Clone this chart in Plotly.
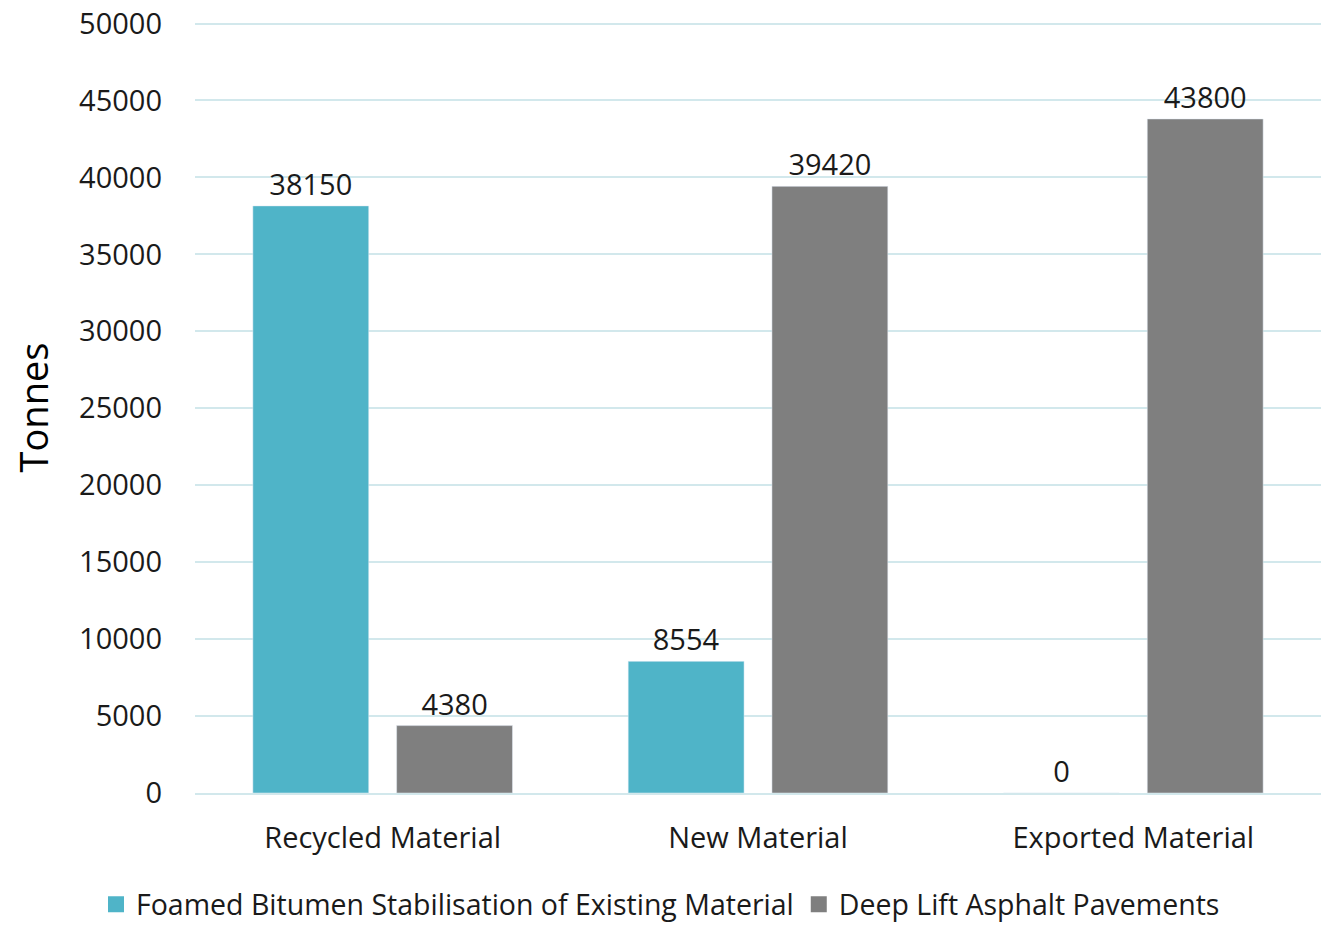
import plotly.graph_objects as go

categories = ["Recycled Material", "New Material", "Exported Material"]
foamed = [38150, 8554, 0]
deep_lift = [4380, 39420, 43800]
series_names = ["Foamed Bitumen Stabilisation of Existing Material", "Deep Lift Asphalt Pavements"]
colors = ["#4fb4c8", "#7f7f7f"]
y_ticks = [0, 5000, 10000, 15000, 20000, 25000, 30000, 35000, 40000, 45000, 50000]

FONT = "Open Sans"
TXT = "#1a1a1a"
fig = go.Figure()
for vals, name, col in zip([foamed, deep_lift], series_names, colors):
    fig.add_trace(go.Bar(x=categories, y=vals, name=name, marker_color=col, showlegend=False,
                         text=[str(v) for v in vals], textposition="outside", cliponaxis=False,
                         textfont=dict(size=29, color=TXT, family=FONT)))
for name, col in zip(series_names, colors):
    fig.add_trace(go.Scatter(x=[None], y=[None], mode="markers", name=name,
                             marker=dict(symbol="square", size=18, color=col)))

fig.update_layout(
    width=1321, height=928,
    margin=dict(l=195, r=0, t=22, b=135, autoexpand=False),
    paper_bgcolor="white", plot_bgcolor="white",
    font=dict(family=FONT, color=TXT, size=29),
    barmode="group", bargap=0.234, bargroupgap=0.194,
    showlegend=True,
    legend=dict(orientation="h", xref="container", yref="paper", x=0.5, xanchor="center",
                y=-0.145, yanchor="middle", font=dict(size=28.5, family=FONT), itemwidth=30,
                traceorder="normal", tracegroupgap=0),
    yaxis=dict(range=[0, 50100], tickvals=y_ticks, ticktext=[str(v) for v in y_ticks],
               showgrid=True, gridcolor="#d2e8ec", gridwidth=2, zeroline=False,
               showline=False, ticklabelstandoff=32,
               tickfont=dict(size=29, family=FONT),
               title=dict(text="Tonnes", font=dict(size=38, family=FONT, color="#000000"), standoff=18)),
    xaxis=dict(showline=True, linecolor="#d2e8ec", linewidth=2, ticks="",
               tickfont=dict(size=29, family=FONT), ticklabelstandoff=18),
)
fig.write_html("out.html")
